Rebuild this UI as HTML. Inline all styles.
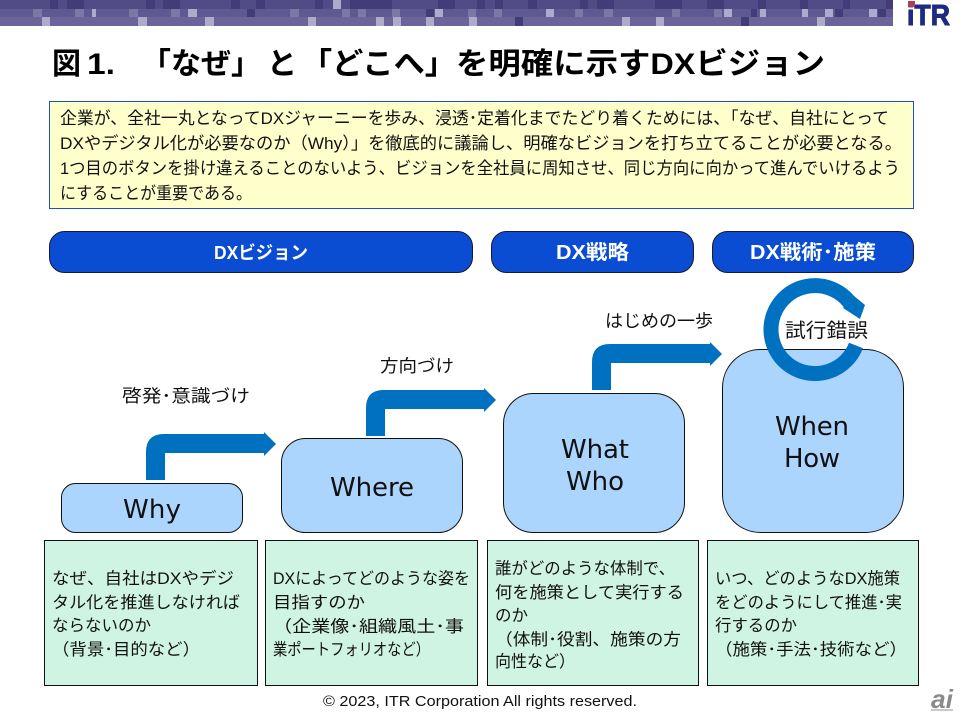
<!DOCTYPE html>
<html lang="ja">
<head>
<meta charset="utf-8">
<title>図1</title>
<style>
html,body{margin:0;padding:0;background:#fff;width:960px;height:720px;overflow:hidden}
svg{display:block}
text{font-family:"Liberation Sans","Noto Sans CJK JP",sans-serif;fill:#111}
.t{font-size:17px}
.g{font-size:16.5px}
.h{font-size:20px;font-weight:bold;fill:#fff}
.l{font-size:17.5px}
.b{font-family:"DejaVu Sans",sans-serif;font-size:26px;fill:#111}
.m{font-size:30px;font-weight:bold;fill:#000}
</style>
</head>
<body>
<svg width="960" height="720" viewBox="0 0 960 720" xmlns="http://www.w3.org/2000/svg">
<rect width="960" height="720" fill="#fff"/>
<!-- header band -->
<rect x="0" y="0" width="893" height="9" fill="#524c86"/>
<rect x="0" y="9" width="893" height="8" fill="#5f5891"/>
<rect x="0" y="17" width="893" height="9" fill="#6b649b"/>
<g fill="#423c78">
<rect x="50" y="0" width="8" height="9"/><rect x="67" y="0" width="17" height="9"/><rect x="146" y="0" width="9" height="9"/><rect x="163" y="0" width="17" height="9"/><rect x="231" y="0" width="9" height="9"/><rect x="256" y="0" width="9" height="9"/>
<rect x="315" y="0" width="8" height="9"/><rect x="350" y="0" width="42" height="9"/><rect x="438" y="0" width="17" height="9"/><rect x="477" y="0" width="8" height="9"/><rect x="495" y="0" width="8" height="9"/><rect x="528" y="0" width="9" height="9"/><rect x="580" y="0" width="8" height="9"/><rect x="597" y="0" width="17" height="9"/>
<rect x="655" y="0" width="27" height="9"/><rect x="707" y="0" width="17" height="9"/><rect x="758" y="0" width="8" height="9"/><rect x="800" y="0" width="8" height="9"/><rect x="843" y="0" width="7" height="9"/><rect x="886" y="0" width="7" height="9"/>
<rect x="751" y="9" width="6" height="8"/><rect x="835" y="9" width="8" height="8"/><rect x="878" y="9" width="8" height="8"/><rect x="247" y="9" width="8" height="8"/><rect x="426" y="9" width="8" height="8"/>
<rect x="741" y="17" width="8" height="9"/><rect x="515" y="17" width="8" height="9"/>
</g>
<g fill="#7d77a8">
<rect x="33" y="9" width="9" height="8"/><rect x="75" y="9" width="9" height="8"/><rect x="129" y="9" width="9" height="8"/><rect x="171" y="9" width="9" height="8"/><rect x="290" y="9" width="9" height="8"/><rect x="342" y="9" width="8" height="8"/><rect x="358" y="9" width="8" height="8"/><rect x="392" y="9" width="8" height="8"/><rect x="468" y="9" width="8" height="8"/><rect x="494" y="9" width="8" height="8"/><rect x="604" y="9" width="9" height="8"/><rect x="672" y="9" width="8" height="8"/><rect x="714" y="9" width="8" height="8"/><rect x="575" y="9" width="8" height="8"/>
</g>
<g fill="#aeaacc">
<rect x="92" y="9" width="4" height="8"/><rect x="188" y="9" width="9" height="8"/><rect x="42" y="17" width="8" height="9"/><rect x="138" y="17" width="9" height="9"/><rect x="205" y="17" width="9" height="9"/><rect x="308" y="17" width="8" height="9"/><rect x="333" y="0" width="8" height="9"/>
<rect x="435" y="9" width="8" height="8"/><rect x="546" y="9" width="8" height="8"/>
<rect x="376" y="17" width="8" height="9"/><rect x="393" y="17" width="8" height="9"/><rect x="426" y="17" width="8" height="9"/><rect x="469" y="17" width="8" height="9"/>
<rect x="622" y="17" width="8" height="9"/>
<rect x="724" y="9" width="8" height="8"/><rect x="760" y="9" width="6" height="8"/><rect x="802" y="9" width="6" height="8"/><rect x="825" y="9" width="8" height="8"/><rect x="869" y="9" width="8" height="8"/>
<rect x="656" y="17" width="8" height="9"/><rect x="817" y="17" width="8" height="9"/>
</g>
<!-- logo -->
<text x="907" y="25" style="font-size:29px;font-weight:bold;fill:#1c2a80;stroke:#1c2a80;stroke-width:1" textLength="43" lengthAdjust="spacingAndGlyphs">iTR</text>
<rect x="908" y="1" width="7" height="6" fill="#b0404f"/>
<!-- title -->
<text class="m" x="52" y="74" textLength="29" lengthAdjust="spacingAndGlyphs">図</text>
<text class="m" x="87" y="74" textLength="28" lengthAdjust="spacingAndGlyphs">1.</text>
<text class="m" x="141" y="74" textLength="120" lengthAdjust="spacingAndGlyphs">「なぜ」</text>
<text class="m" x="267" y="74" textLength="30" lengthAdjust="spacingAndGlyphs">と</text>
<text class="m" x="301" y="74" textLength="155" lengthAdjust="spacingAndGlyphs">「どこへ」</text>
<text class="m" x="456" y="74" textLength="369" lengthAdjust="spacingAndGlyphs">を明確に示すDXビジョン</text>
<!-- intro box -->
<rect x="49.5" y="101.5" width="864" height="107" fill="#ffffcc" stroke="#1d50d0" stroke-width="1"/>
<text class="t" x="60" y="124" textLength="829" lengthAdjust="spacingAndGlyphs">企業が、全社一丸となってDXジャーニーを歩み、浸透･定着化までたどり着くためには、「なぜ、自社にとって</text>
<text class="t" x="60" y="149" textLength="842" lengthAdjust="spacingAndGlyphs">DXやデジタル化が必要なのか（Why）」を徹底的に議論し、明確なビジョンを打ち立てることが必要となる。</text>
<text class="t" x="60" y="174" textLength="840" lengthAdjust="spacingAndGlyphs">1つ目のボタンを掛け違えることのないよう、ビジョンを全社員に周知させ、同じ方向に向かって進んでいけるよう</text>
<text class="t" x="60" y="199" textLength="192" lengthAdjust="spacingAndGlyphs">にすることが重要である。</text>
<!-- header pills -->
<g fill="#0a4dd2" stroke="#1a1a2a" stroke-width="1">
<rect x="49.5" y="231.5" width="423" height="41" rx="15"/>
<rect x="491.5" y="231.5" width="202" height="41" rx="15"/>
<rect x="712.5" y="231.5" width="201" height="41" rx="15"/>
</g>
<text class="h" x="214" y="259" style="font-size:18px" textLength="94" lengthAdjust="spacingAndGlyphs">DXビジョン</text>
<text class="h" x="556" y="259" textLength="73" lengthAdjust="spacingAndGlyphs">DX戦略</text>
<text class="h" x="750" y="259" textLength="126" lengthAdjust="spacingAndGlyphs">DX戦術･施策</text>
<!-- step boxes -->
<g fill="#acd5fe" stroke="#111" stroke-width="1">
<rect x="61.5" y="483.5" width="181" height="49" rx="14"/>
<rect x="281.5" y="438.5" width="181" height="94" rx="24"/>
<rect x="503.5" y="393.5" width="181" height="139" rx="30"/>
<rect x="722.5" y="349.5" width="181" height="183" rx="38"/>
</g>
<text class="b" x="123" y="518" textLength="58">Why</text>
<text class="b" x="330" y="496" textLength="84">Where</text>
<text class="b" x="561" y="458" textLength="68">What</text>
<text class="b" x="566" y="490" textLength="58">Who</text>
<text class="b" x="775" y="435" textLength="74">When</text>
<text class="b" x="784" y="467" textLength="56">How</text>
<!-- bent arrows -->
<defs>
<path id="bent" d="M146 480V452Q146 434 164 434H264V432L276 444L264 456V453H165V480Z"/>
</defs>
<use href="#bent" fill="#0070c0"/>
<use href="#bent" fill="#0070c0" transform="translate(220,-44)"/>
<use href="#bent" fill="#0070c0" transform="translate(446,-90)"/>
<text class="l" x="122" y="402" textLength="128" lengthAdjust="spacingAndGlyphs">啓発･意識づけ</text>
<text class="l" x="380" y="372" textLength="74" lengthAdjust="spacingAndGlyphs">方向づけ</text>
<text class="l" x="605" y="327" textLength="108" lengthAdjust="spacingAndGlyphs">はじめの一歩</text>
<!-- cycle arrow -->
<path d="M856 345.5A44 44 0 1 1 851 304.3" fill="none" stroke="#0070c0" stroke-width="15"/>
<polygon points="865,305 860,319 843,308 854,296" fill="#0070c0"/>
<text x="785" y="337" style="font-size:19.5px" textLength="83" lengthAdjust="spacingAndGlyphs">試行錯誤</text>
<!-- green boxes -->
<g fill="#cff4e3" stroke="#111" stroke-width="1">
<rect x="44.5" y="540.5" width="213" height="145"/>
<rect x="265.5" y="540.5" width="212" height="145"/>
<rect x="487.5" y="540.5" width="211" height="145"/>
<rect x="707.5" y="540.5" width="211" height="145"/>
</g>
<text class="g" x="52" y="584" textLength="182" lengthAdjust="spacingAndGlyphs">なぜ、自社はDXやデジ</text>
<text class="g" x="52" y="608" textLength="188" lengthAdjust="spacingAndGlyphs">タル化を推進しなければ</text>
<text class="g" x="52" y="631" textLength="99" lengthAdjust="spacingAndGlyphs">ならないのか</text>
<text class="g" x="52" y="655" textLength="148" lengthAdjust="spacingAndGlyphs">（背景･目的など）</text>

<text class="g" x="273" y="584" textLength="197" lengthAdjust="spacingAndGlyphs">DXによってどのような姿を</text>
<text class="g" x="273" y="608" textLength="92" lengthAdjust="spacingAndGlyphs">目指すのか</text>
<text class="g" x="273" y="632" textLength="191" lengthAdjust="spacingAndGlyphs">（企業像･組織風土･事</text>
<text class="g" x="273" y="655" textLength="157" lengthAdjust="spacingAndGlyphs">業ポートフォリオなど）</text>

<text class="g" x="495" y="574" textLength="180" lengthAdjust="spacingAndGlyphs">誰がどのような体制で、</text>
<text class="g" x="495" y="598" textLength="189" lengthAdjust="spacingAndGlyphs">何を施策として実行する</text>
<text class="g" x="495" y="621" textLength="33" lengthAdjust="spacingAndGlyphs">のか</text>
<text class="g" x="495" y="645" textLength="186" lengthAdjust="spacingAndGlyphs">（体制･役割、施策の方</text>
<text class="g" x="495" y="667" textLength="80" lengthAdjust="spacingAndGlyphs">向性など）</text>

<text class="g" x="715" y="584" textLength="185" lengthAdjust="spacingAndGlyphs">いつ、どのようなDX施策</text>
<text class="g" x="715" y="608" textLength="187" lengthAdjust="spacingAndGlyphs">をどのようにして推進･実</text>
<text class="g" x="715" y="631" textLength="82" lengthAdjust="spacingAndGlyphs">行するのか</text>
<text class="g" x="715" y="655" textLength="192" lengthAdjust="spacingAndGlyphs">（施策･手法･技術など）</text>
<!-- footer -->
<text x="323" y="706" style="font-size:14.5px" textLength="314" lengthAdjust="spacingAndGlyphs">© 2023, ITR Corporation All rights reserved.</text>
<text x="931" y="708" style="font-size:26px;font-style:italic;font-weight:bold;fill:#8a8a8a" textLength="22" lengthAdjust="spacingAndGlyphs">ai</text>
<rect x="931" y="709" width="22" height="2" fill="#c8c8c8"/>
</svg>
</body>
</html>
